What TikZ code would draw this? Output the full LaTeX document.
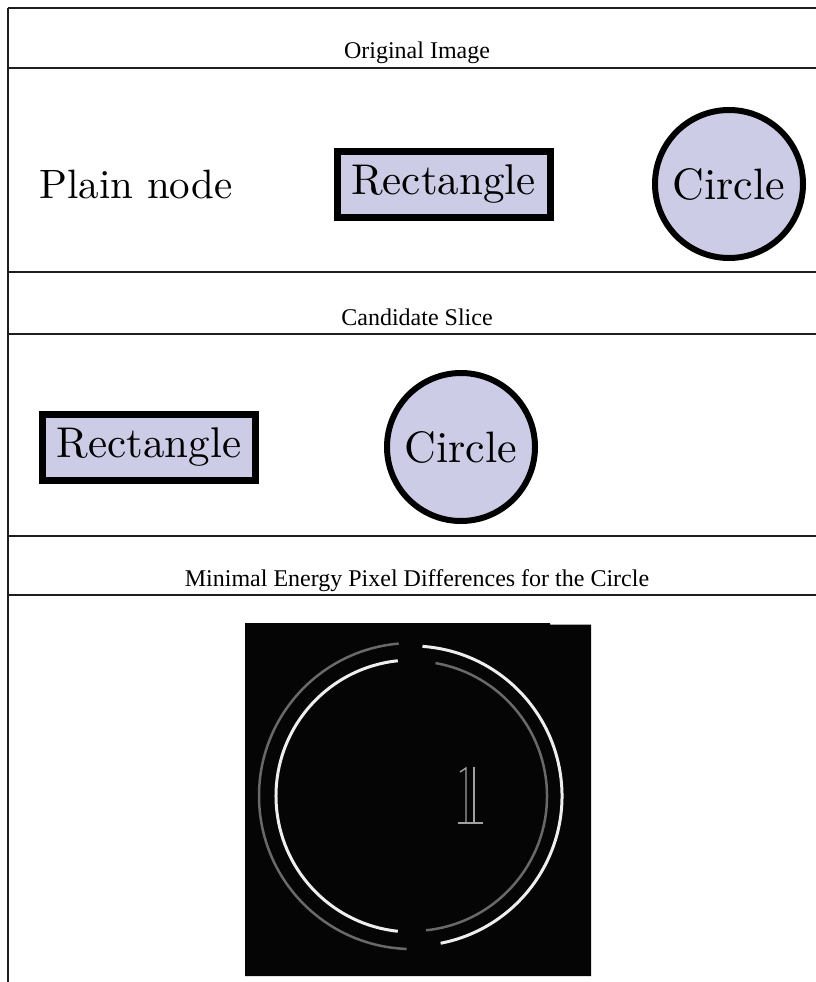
\documentclass[tikz,border=0pt]{standalone}
\usepackage{fontspec}
\usepackage{graphicx}
\newfontfamily\titlefont{Liberation Serif}

\definecolor{nodefill}{RGB}{205,204,230}
\definecolor{rulegray}{RGB}{30,30,30}
\definecolor{diffbg}{RGB}{5,5,5}
\definecolor{ringbright}{RGB}{238,238,238}
\definecolor{ringdim}{RGB}{105,105,105}
\definecolor{glyphgray}{RGB}{160,160,160}

\tikzset{
  rule/.style={line width=1.3pt, draw=rulegray},
  title/.style={font=\titlefont\fontsize{24}{29}\selectfont, anchor=base, inner sep=0pt},
  plaintext/.style={anchor=base, inner sep=0pt},
  shapebox/.style={rectangle, draw=black, fill=nodefill, line width=7pt,
    minimum width=213pt, minimum height=66pt, inner sep=0pt},
  shapecirc/.style={circle, draw=black, fill=nodefill, line width=6pt,
    minimum size=148pt, inner sep=0pt},
  brightring/.style={draw=ringbright, line width=3pt},
  dimring/.style={draw=ringdim, line width=2.5pt},
  glyphline/.style={draw=glyphgray, line width=1.4pt},
}

\begin{document}
\begin{tikzpicture}[x=1pt,y=-1pt]
\useasboundingbox (0,0) rectangle (816,982);

% table rules
\draw[rule] (8,8) -- (816,8);
\draw[rule] (8,68) -- (816,68);
\draw[rule] (8,272) -- (816,272);
\draw[rule] (8,334) -- (816,334);
\draw[rule] (8,536) -- (816,536);
\draw[rule] (8,595) -- (816,595);
\draw[rule] (8,8) -- (8,982);

% row titles
\node[title] (t1) at (417,59) {Original Image};
\node[title] (t2) at (417,325) {Candidate Slice};
\node[title] (t3) at (417,586) {Minimal Energy Pixel Differences for the Circle};

% first row: the three node kinds
\node[plaintext] (plain) at (136,198) {\scalebox{4.1}{Plain node}};
\node[shapebox] (rect1) at (443.5,184) {\scalebox{4.3}{Rectangle}};
\node[shapecirc] (circ1) at (729,184) {\scalebox{4.4}{Circle}};

% second row: the slice
\node[shapebox] (rect2) at (149,447) {\scalebox{4.3}{Rectangle}};
\node[shapecirc] (circ2) at (461,447) {\scalebox{4.4}{Circle}};

% third row: difference map
\fill[diffbg] (245,623) -- (550,623) -- (550,624.5) -- (591,624.5) -- (591,976) -- (245,976) -- cycle;
\coordinate (dc) at (412,796);
\draw[dimring] (dc) ++(95:153pt) arc[start angle=95, end angle=268, radius=153pt];
\draw[dimring] (dc) ++(-84:135pt) arc[start angle=-84, end angle=80, radius=135pt];
\draw[brightring] (dc) ++(96:136pt) arc[start angle=96, end angle=264, radius=136pt];
\draw[brightring] (dc) ++(-79:150pt) arc[start angle=-79, end angle=86, radius=150pt];

% leftover stroke of the letter l
\draw[glyphline] (460,772) -- (466,768) -- (466,823);
\draw[glyphline] (474,767) -- (474,823);
\draw[glyphline] (458,823) -- (483,823);
\end{tikzpicture}
\end{document}
